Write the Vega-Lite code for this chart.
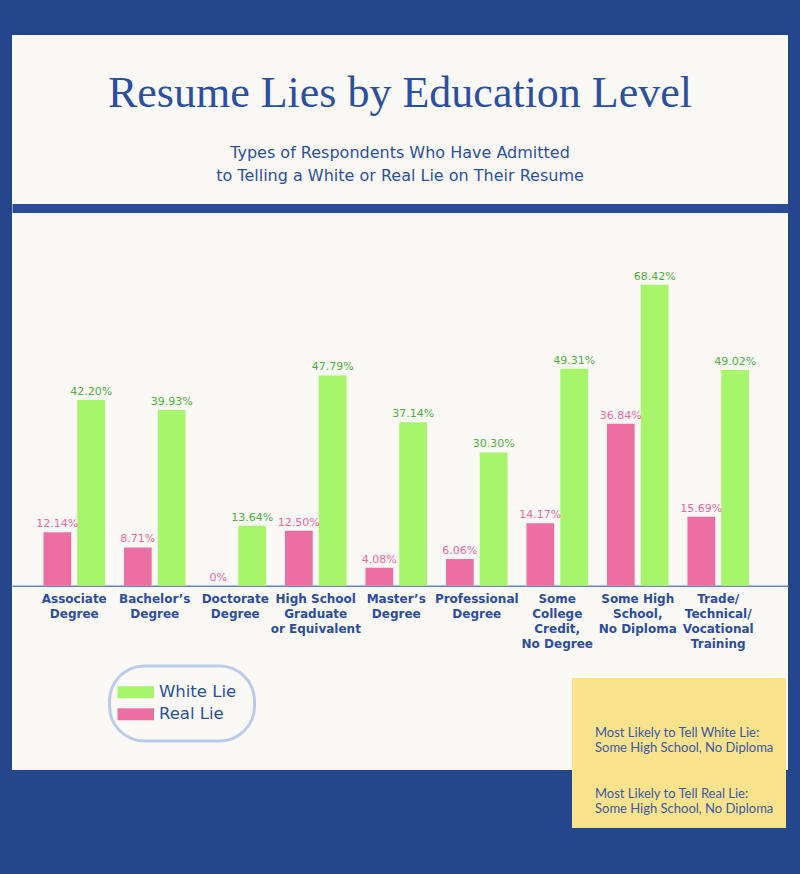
{
  "$schema": "https://vega.github.io/schema/vega-lite/v6.json",
  "width": 776,
  "height": 735,
  "autosize": {"type": "none"},
  "padding": {"left": 12, "top": 35, "right": 12, "bottom": 104},
  "background": "#24468c",
  "title": {
    "text": "Resume Lies by Education Level",
    "subtitle": ["Types of Respondents Who Have Admitted", "to Telling a White or Real Lie on Their Resume"],
    "anchor": "middle",
    "frame": "group",
    "orient": "top",
    "offset": -149,
    "font": "Liberation Serif",
    "fontSize": 44,
    "fontWeight": "normal",
    "color": "#2d4f9f",
    "subtitleFont": "DejaVu Sans",
    "subtitleFontSize": 16,
    "subtitleColor": "#2d4f9f",
    "subtitlePadding": 29,
    "subtitleLineHeight": 23
  },
  "data": {
    "values": [
      {"level": "Associate Degree", "series": "Real Lie", "pct": 12.14},
      {"level": "Associate Degree", "series": "White Lie", "pct": 42.20},
      {"level": "Bachelor’s Degree", "series": "Real Lie", "pct": 8.71},
      {"level": "Bachelor’s Degree", "series": "White Lie", "pct": 39.93},
      {"level": "Doctorate Degree", "series": "Real Lie", "pct": 0},
      {"level": "Doctorate Degree", "series": "White Lie", "pct": 13.64},
      {"level": "High School Graduate or Equivalent", "series": "Real Lie", "pct": 12.50},
      {"level": "High School Graduate or Equivalent", "series": "White Lie", "pct": 47.79},
      {"level": "Master’s Degree", "series": "Real Lie", "pct": 4.08},
      {"level": "Master’s Degree", "series": "White Lie", "pct": 37.14},
      {"level": "Professional Degree", "series": "Real Lie", "pct": 6.06},
      {"level": "Professional Degree", "series": "White Lie", "pct": 30.30},
      {"level": "Some College Credit, No Degree", "series": "Real Lie", "pct": 14.17},
      {"level": "Some College Credit, No Degree", "series": "White Lie", "pct": 49.31},
      {"level": "Some High School, No Diploma", "series": "Real Lie", "pct": 36.84},
      {"level": "Some High School, No Diploma", "series": "White Lie", "pct": 68.42},
      {"level": "Trade/Technical/Vocational Training", "series": "Real Lie", "pct": 15.69},
      {"level": "Trade/Technical/Vocational Training", "series": "White Lie", "pct": 49.02}
    ]
  },
  "layer": [
    {
      "mark": {"type": "bar"},
      "encoding": {
        "x": {
          "field": "level", "type": "nominal", "sort": null,
          "scale": {"paddingInner": 0, "paddingOuter": 0.32, "align": 0.427},
          "axis": {
            "orient": "bottom", "offset": -184.3, "title": null, "ticks": false,
            "domainColor": "#6a83c4", "domainWidth": 1.5, "labelAngle": 0,
            "labelFont": "DejaVu Sans", "labelFontWeight": "bold", "labelFontSize": 12,
            "labelColor": "#2c4d9f", "labelPadding": 8, "labelBaseline": "top", "labelLineHeight": 15,
            "labelExpr": "datum.value == 'High School Graduate or Equivalent' ? ['High School', 'Graduate', 'or Equivalent'] : datum.value == 'Some College Credit, No Degree' ? ['Some', 'College', 'Credit,', 'No Degree'] : datum.value == 'Some High School, No Diploma' ? ['Some High', 'School,', 'No Diploma'] : datum.value == 'Trade/Technical/Vocational Training' ? ['Trade/', 'Technical/', 'Vocational', 'Training'] : split(datum.value, ' ')"
          }
        },
        "xOffset": {"field": "series", "type": "nominal", "sort": ["Real Lie", "White Lie"], "scale": {"paddingInner": 0.18, "paddingOuter": 0.28}},
        "y": {
          "field": "pct", "type": "quantitative",
          "scale": {"domain": [-41.9, 125.2], "nice": false},
          "axis": {"values": [85.8], "grid": true, "gridColor": "#2c4c9b", "gridWidth": 9, "labels": false, "ticks": false, "domain": false, "title": null}
        },
        "color": {
          "field": "series", "type": "nominal",
          "scale": {"domain": ["White Lie", "Real Lie"], "range": ["#a6f56a", "#ec6fa4"]},
          "legend": {
            "orient": "none", "legendX": 97.5, "legendY": 631, "title": null,
            "symbolType": "M-2.6,-0.85H2.6V0.85H-2.6Z", "symbolSize": 196, "symbolStrokeWidth": 0,
            "labelFont": "DejaVu Sans", "labelFontSize": 16.5, "labelColor": "#2d4f9f", "labelOffset": 15,
            "rowPadding": 5, "padding": 18, "strokeColor": "#bccbe8", "cornerRadius": 35
          }
        }
      }
    },
    {
      "transform": [
        {"calculate": "datum.pct == 0 ? '0%' : format(datum.pct, '.2f') + '%'", "as": "label"}
      ],
      "mark": {"type": "text", "baseline": "bottom", "dy": -3, "font": "DejaVu Sans", "fontSize": 11},
      "encoding": {
        "x": {"field": "level", "type": "nominal", "sort": null},
        "xOffset": {"field": "series", "type": "nominal", "sort": ["Real Lie", "White Lie"]},
        "y": {"field": "pct", "type": "quantitative"},
        "text": {"field": "label"},
        "color": {"condition": {"test": "datum.series == 'White Lie'", "value": "#4fae3d"}, "value": "#e86aa0"}
      }
    },
    {
      "transform": [
        {"joinaggregate": [{"op": "max", "field": "pct", "as": "top"}], "groupby": ["series"]},
        {"filter": "datum.pct == datum.top"},
        {"calculate": "'Most Likely to Tell ' + datum.series + ':|' + datum.level", "as": "note"}
      ],
      "mark": {"type": "point", "opacity": 0},
      "encoding": {
        "x": {"field": "level", "type": "nominal", "sort": null},
        "y": {"field": "pct", "type": "quantitative"},
        "shape": {
          "field": "note", "type": "nominal", "sort": "descending",
          "legend": {
            "orient": "none", "legendX": 560, "legendY": 643,
            "title": " ", "titleFontSize": 22, "titlePadding": 8,
            "fillColor": "#fbe38d", "padding": 12,
            "symbolOpacity": 0, "symbolSize": 4,
            "labelExpr": "split(datum.label, '|')",
            "labelFont": "Lato", "labelFontSize": 13, "labelColor": "#3a58a4",
            "labelOffset": -2, "labelBaseline": "top", "labelLimit": 300, "rowPadding": 26
          }
        }
      }
    }
  ],
  "config": {
    "view": {"fill": "#fbf9f6", "stroke": null},
    "legend": {"strokeWidth": 3}
  }
}
